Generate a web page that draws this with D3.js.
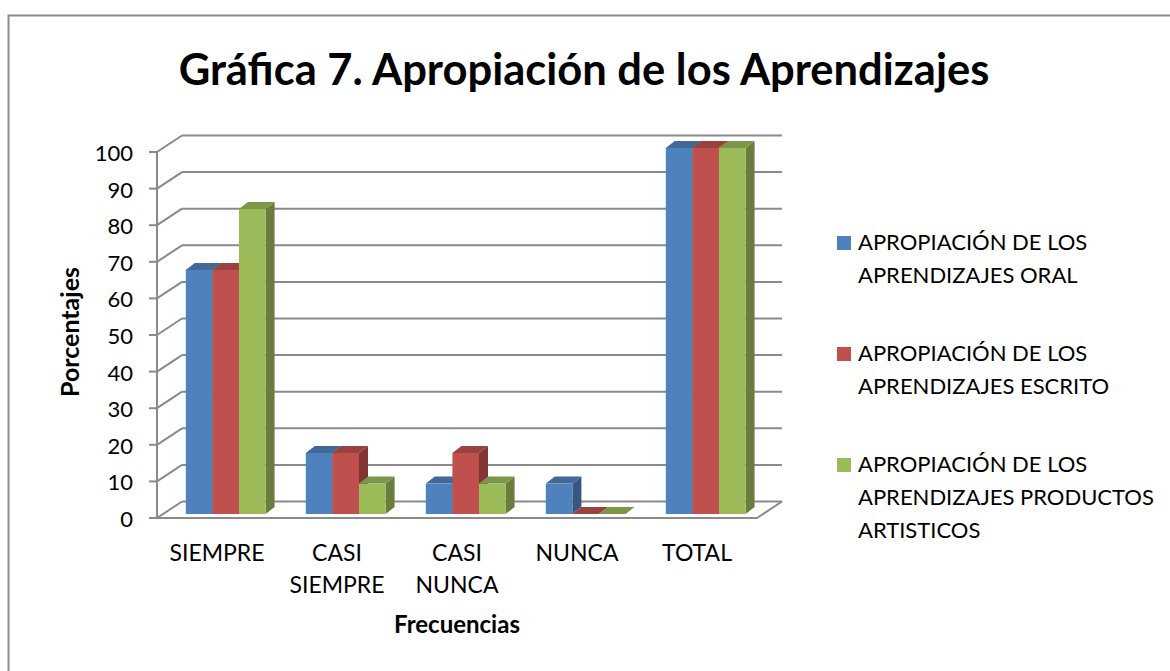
<!DOCTYPE html>
<html lang="es">
<head>
<meta charset="UTF-8">
<title>Gráfica 7</title>
<script src="https://d3js.org/d3.v7.min.js"></script>
<style>
  body { margin: 0; background: #fff; }
  svg { font-family: "Lato", "Liberation Sans", sans-serif; }
</style>
</head>
<body>
<svg id="chart" width="1170" height="671"></svg>
<script>
// data
var categories = [["SIEMPRE"], ["CASI", "SIEMPRE"], ["CASI", "NUNCA"], ["NUNCA"], ["TOTAL"]];
var seriesNames = [
  ["APROPIACIÓN DE LOS", "APRENDIZAJES ORAL"],
  ["APROPIACIÓN DE LOS", "APRENDIZAJES ESCRITO"],
  ["APROPIACIÓN DE LOS", "APRENDIZAJES PRODUCTOS", "ARTISTICOS"]
];
var oral     = [66.7, 16.7, 8.3, 8.3, 100];
var escrito  = [66.7, 16.7, 16.7, 0, 100];
var artistic = [83.3, 8.3, 8.3, 0, 100];
var yTicks = [0, 10, 20, 30, 40, 50, 60, 70, 80, 90, 100];
var colors = ["#4F81BD", "#C0504D", "#9BBB59"];

var series = [oral, escrito, artistic];

var svg = d3.select("#chart");

// outer frame
svg.append("rect")
  .attr("x", 8.5).attr("y", 15.5)
  .attr("width", 1200).attr("height", 700)
  .attr("fill", "none").attr("stroke", "#8c8c8c").attr("stroke-width", 2);

// title
svg.append("text")
  .attr("x", 584).attr("y", 85)
  .attr("text-anchor", "middle")
  .attr("font-weight", "bold").attr("font-size", 43.5)
  .text("Gráfica 7. Apropiación de los Aprendizajes");

// 3d geometry
var depthX = 25, depthY = -16.5;
var x = d3.scaleBand().domain(d3.range(categories.length)).range([157, 757]);
var y = d3.scaleLinear().domain([0, 100]).range([518, 152]);
var bw = x.bandwidth();
var xs = d3.scaleBand().domain(d3.range(series.length))
  .range([bw * 0.19, bw * 0.19 + bw * 0.665]);

var grid = svg.append("g").attr("stroke", "#8a8a8a").attr("stroke-width", 2).attr("fill", "none");

// back wall gridlines + side wall diagonals
yTicks.forEach(function(t) {
  grid.append("line")
    .attr("x1", 157 + depthX).attr("x2", 757 + depthX)
    .attr("y1", y(t) + depthY).attr("y2", y(t) + depthY);
  grid.append("line")
    .attr("x1", 157).attr("x2", 157 + depthX)
    .attr("y1", y(t)).attr("y2", y(t) + depthY);
  grid.append("line")
    .attr("x1", 149).attr("x2", 157)
    .attr("y1", y(t)).attr("y2", y(t));
});
// left axis line
grid.append("line").attr("x1", 157).attr("x2", 157).attr("y1", y(100)).attr("y2", y(0) + 1);
// floor front + right edges
grid.append("polyline")
  .attr("points", [[157, y(0)], [757, y(0)], [757 + depthX, y(0) + depthY]].map(function(p) { return p.join(","); }).join(" "));

// y tick labels
svg.append("g").selectAll("text").data(yTicks).join("text")
  .attr("x", 133).attr("y", function(d) { return y(d) + 9; })
  .attr("text-anchor", "end")
  .attr("font-size", 22).attr("fill", "#000")
  .text(function(d) { return d; });

// bars
var barDx = 9, barDy = -7;
var shiftX = 6, shiftY = -4;
var bars = svg.append("g");
categories.forEach(function(c, ci) {
  series.forEach(function(s, si) {
    var v = s[ci];
    var x0 = x(ci) + xs(si) + shiftX;
    var w = xs.bandwidth();
    var yb = y(0) + shiftY;
    var yt = y(v) + shiftY;
    var col = d3.color(colors[si]);
    // side face
    bars.append("path")
      .attr("d", "M" + (x0 + w) + "," + yb + "L" + (x0 + w + barDx) + "," + (yb + barDy) +
        "L" + (x0 + w + barDx) + "," + (yt + barDy) + "L" + (x0 + w) + "," + yt + "Z")
      .attr("fill", col.darker(1.1));
    // front face
    bars.append("rect")
      .attr("x", x0).attr("y", yt)
      .attr("width", w).attr("height", yb - yt)
      .attr("fill", col);
    // top face
    bars.append("path")
      .attr("d", "M" + x0 + "," + yt + "L" + (x0 + barDx) + "," + (yt + barDy) +
        "L" + (x0 + w + barDx) + "," + (yt + barDy) + "L" + (x0 + w) + "," + yt + "Z")
      .attr("fill", col.darker(0.6));
  });
});

// category labels
var catG = svg.append("g");
categories.forEach(function(c, ci) {
  var t = catG.append("text")
    .attr("x", x(ci) + bw / 2).attr("y", 561)
    .attr("text-anchor", "middle").attr("font-size", 23);
  c.forEach(function(line, li) {
    t.append("tspan").attr("x", x(ci) + bw / 2).attr("dy", li === 0 ? 0 : 32).text(line);
  });
});

// axis titles
svg.append("text")
  .attr("x", 457).attr("y", 633)
  .attr("text-anchor", "middle").attr("font-weight", "bold").attr("font-size", 24)
  .text("Frecuencias");
svg.append("text")
  .attr("transform", "translate(79,332) rotate(-90)")
  .attr("text-anchor", "middle").attr("font-weight", "bold").attr("font-size", 25)
  .text("Porcentajes");

// legend
var legend = svg.append("g");
seriesNames.forEach(function(lines, i) {
  var ly = 236 + i * 111;
  legend.append("rect")
    .attr("x", 837).attr("y", ly).attr("width", 14).attr("height", 14)
    .attr("fill", colors[i]);
  var t = legend.append("text").attr("x", 858).attr("y", ly + 14).attr("font-size", 22);
  lines.forEach(function(line, li) {
    t.append("tspan").attr("x", 858).attr("dy", li === 0 ? 0 : 33).text(line);
  });
});
</script>
</body>
</html>
